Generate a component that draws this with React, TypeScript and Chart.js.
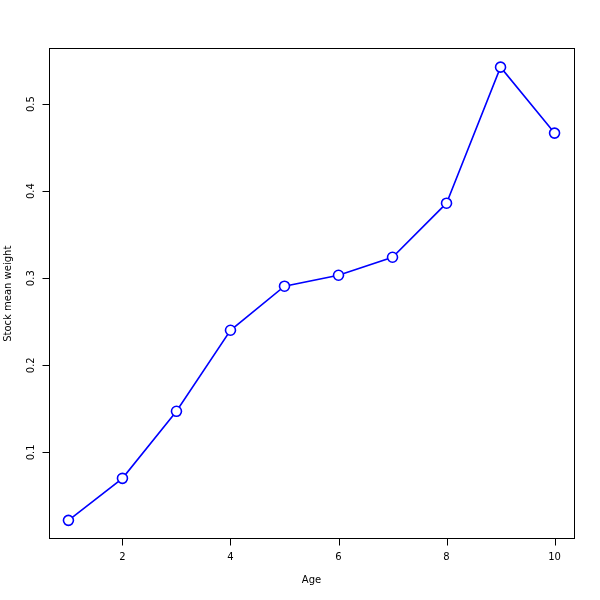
import React, { useEffect, useRef } from "react";
import { Chart, registerables } from "chart.js";

Chart.register(...registerables);

const ages = [1, 2, 3, 4, 5, 6, 7, 8, 9, 10];
const weights = [0.0218, 0.0701, 0.1471, 0.2402, 0.2908, 0.3034, 0.3241, 0.3862, 0.5425, 0.4667];
const xTicks = [2, 4, 6, 8, 10];
const yTicks = [0.1, 0.2, 0.3, 0.4, 0.5];
const yTickLabels = ["0.1", "0.2", "0.3", "0.4", "0.5"];
const xTitle = "Age";
const yTitle = "Stock mean weight";

const FONT = "10px 'DejaVu Sans', sans-serif";

function rRange(vals: number[]) {
  const mn = Math.min(...vals);
  const mx = Math.max(...vals);
  const d = (mx - mn) * 0.04;
  return [mn - d, mx + d];
}

const rAxes = {
  id: "rAxes",
  afterDraw(chart: any) {
    const ctx = chart.ctx;
    const a = chart.chartArea;
    const xs = chart.scales.x;
    const ys = chart.scales.y;
    ctx.save();
    ctx.strokeStyle = "#000";
    ctx.lineWidth = 1;
    const bx = Math.round(a.left) + 0.5;
    const by = Math.round(a.top) - 0.5;
    const bb = Math.round(a.bottom) - 0.5;
    const br = Math.round(a.right) + 0.5;
    ctx.strokeRect(bx, by, br - bx, bb - by);
    ctx.fillStyle = "#000";
    ctx.font = FONT;
    // x ticks
    ctx.beginPath();
    const x0 = Math.round(xs.getPixelForValue(xTicks[0])) + 0.5;
    const x1 = Math.round(xs.getPixelForValue(xTicks[xTicks.length - 1])) + 0.5;
    ctx.moveTo(x0, bb);
    ctx.lineTo(x1, bb);
    xTicks.forEach((t) => {
      const px = Math.round(xs.getPixelForValue(t)) + 0.5;
      ctx.moveTo(px, bb);
      ctx.lineTo(px, bb + 7);
    });
    ctx.stroke();
    ctx.textAlign = "center";
    ctx.textBaseline = "middle";
    xTicks.forEach((t) => {
      const px = xs.getPixelForValue(t);
      ctx.fillText(String(t), px, 557);
    });
    ctx.fillText(xTitle, (a.left + a.right) / 2, 580);
    // y ticks
    ctx.beginPath();
    const y0 = Math.round(ys.getPixelForValue(yTicks[0])) + 0.5;
    const y1 = Math.round(ys.getPixelForValue(yTicks[yTicks.length - 1])) + 0.5;
    ctx.moveTo(bx, y0);
    ctx.lineTo(bx, y1);
    yTicks.forEach((t) => {
      const py = Math.round(ys.getPixelForValue(t)) + 0.5;
      ctx.moveTo(bx, py);
      ctx.lineTo(bx - 7, py);
    });
    ctx.stroke();
    yTicks.forEach((t, i) => {
      const py = ys.getPixelForValue(t);
      ctx.save();
      ctx.translate(31, py);
      ctx.rotate(-Math.PI / 2);
      ctx.fillText(yTickLabels[i], 0, 0);
      ctx.restore();
    });
    ctx.save();
    ctx.translate(8, (a.top + a.bottom) / 2);
    ctx.rotate(-Math.PI / 2);
    ctx.fillText(yTitle, 0, 0);
    ctx.restore();
    ctx.restore();
  },
};

export default function App() {
  const ref = useRef<HTMLCanvasElement>(null);
  useEffect(() => {
    const [xmin, xmax] = rRange(ages);
    const [ymin, ymax] = rRange(weights);
    const chart = new Chart(ref.current!, {
      type: "line",
      data: {
        datasets: [
          {
            data: ages.map((a, i) => ({ x: a, y: weights[i] })),
            borderColor: "#0000ff",
            borderWidth: 1.6,
            pointRadius: 5,
            pointBorderWidth: 1.6,
            pointBackgroundColor: "#ffffff",
            pointBorderColor: "#0000ff",
            tension: 0,
          },
        ],
      },
      options: {
        animation: false,
        responsive: false,
        devicePixelRatio: 1,
        layout: { padding: { left: 49, right: 26, top: 49, bottom: 61.5 } },
        plugins: { legend: { display: false }, tooltip: { enabled: false } },
        scales: {
          x: { type: "linear", min: xmin, max: xmax, display: false },
          y: { type: "linear", min: ymin, max: ymax, display: false },
        },
      },
      plugins: [rAxes],
    });
    return () => chart.destroy();
  }, []);
  return (
    <div style={{ position: "fixed", left: 0, top: 0, width: 600, height: 600, background: "#fff" }}>
      <canvas ref={ref} width={600} height={600} />
    </div>
  );
}
